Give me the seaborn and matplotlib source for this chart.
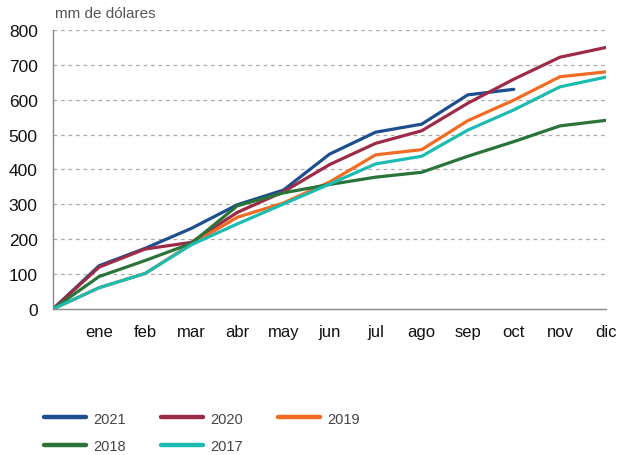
import numpy as np
import pandas as pd
import matplotlib
matplotlib.use("Agg")
import matplotlib.pyplot as plt
from matplotlib.lines import Line2D
import seaborn as sns

meses = ["", "ene", "feb", "mar", "abr", "may", "jun", "jul", "ago", "sep", "oct", "nov", "dic"]

y2021 = [0, 124, 174, 231, 299, 341, 444, 507, 530, 614, 630]
y2020 = [0, 120, 172, 191, 277, 336, 414, 475, 511, 590, 659, 722, 750]
y2019 = [0, 61, 102, 186, 263, 304, 364, 442, 457, 540, 599, 666, 680]
y2018 = [0, 93, 139, 188, 296, 333, 357, 378, 392, 438, 480, 525, 541]
y2017 = [0, 61, 102, 184, 244, 301, 358, 416, 438, 513, 571, 637, 665]

series = {"2021": y2021, "2020": y2020, "2019": y2019, "2018": y2018, "2017": y2017}
colores = {"2021": "#1d4e8f", "2020": "#9e2b45", "2019": "#f26b22",
           "2018": "#2a7439", "2017": "#1cbcb2"}

rows = []
for anio, vals in series.items():
    for i, v in enumerate(vals):
        rows.append({"mes": i, "valor": v, "anio": anio})
df = pd.DataFrame(rows)

sns.set_style("white")
plt.rcParams["font.family"] = ["Liberation Sans", "DejaVu Sans"]

fig = plt.figure(figsize=(6.28, 4.56), dpi=100)
ax = fig.add_axes([0.0844, 0.3202, 0.8806, 0.6118])

sns.lineplot(data=df, x="mes", y="valor", hue="anio", palette=colores,
             hue_order=list(series.keys()), linewidth=2.3, ax=ax, legend=False)

ax.set_xlim(0, 12)
ax.set_ylim(0, 800)
ax.set_xticks(range(13))
ax.set_xticklabels(meses, fontsize=12, color="#111111")
ax.set_yticks(range(0, 801, 100))
ax.set_yticklabels([str(v) for v in range(0, 801, 100)], fontsize=12.5, color="#111111")
ax.tick_params(axis="x", direction="in", length=5, color="#999999", pad=11)
ax.tick_params(axis="y", length=0, pad=11)
ax.set_xlabel("")
ax.set_ylabel("")

for v in range(100, 801, 100):
    ax.axhline(v, color="#aaaaaa", linestyle=(0, (3, 3)), linewidth=0.9, zorder=0)

for s in ["top", "right"]:
    ax.spines[s].set_visible(False)
for s in ["left", "bottom"]:
    ax.spines[s].set_color("#888888")
    ax.spines[s].set_linewidth(1.0)

ax.text(0.003, 1.035, "mm de dólares", transform=ax.transAxes, fontsize=11,
        color="#555555", ha="left", va="bottom")

orden = ["2021", "2018", "2020", "2017", "2019"]
handles = [Line2D([0], [0], color=colores[a], linewidth=3.2) for a in orden]
leg = fig.legend(handles, orden, loc="upper left", bbox_to_anchor=(0.049, 0.124),
                 ncol=3, frameon=False, handlelength=2.88, handletextpad=0.48,
                 columnspacing=2.43, labelspacing=0.9,
                 prop={"size": 10.5})
for t in leg.get_texts():
    t.set_color("#444444")

fig.savefig("out.png", dpi=100)
